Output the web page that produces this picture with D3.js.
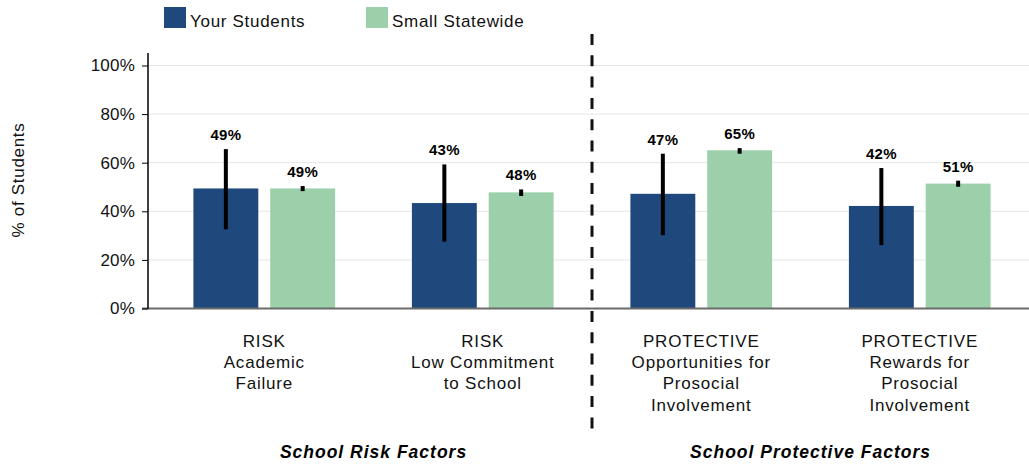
<!DOCTYPE html>
<html>
<head>
<meta charset="utf-8">
<script src="https://cdn.jsdelivr.net/npm/d3@7"></script>
<style>
  html, body { margin: 0; padding: 0; background: #fff; }
  svg { display: block; font-family: "Liberation Sans", Arial, sans-serif; }
</style>
</head>
<body>
<svg id="chart" width="1029" height="465"></svg>
<script>
// ---- Data ----
const categories = ["risk_academic", "risk_commitment", "prot_opportunities", "prot_rewards"];
const categoryLabels = [
  ["RISK", "Academic", "Failure"],
  ["RISK", "Low Commitment", "to School"],
  ["PROTECTIVE", "Opportunities for", "Prosocial", "Involvement"],
  ["PROTECTIVE", "Rewards for", "Prosocial", "Involvement"]
];
const seriesNames = ["Your Students", "Small Statewide"];
const yourStudents = [49.4, 43.4, 47.2, 42.2];
const smallStatewide = [49.4, 47.8, 65.1, 51.4];
const yourLow = [32.6, 27.5, 30.2, 26.1];
const yourHigh = [65.6, 59.3, 63.7, 57.8];
const stateLow = [48.3, 46.3, 63.7, 50.1];
const stateHigh = [50.4, 49.0, 66.0, 52.6];
const yTicks = [0, 20, 40, 60, 80, 100];
const groupTitles = ["School Risk Factors", "School Protective Factors"];
const colors = ["#1f487c", "#9bd0ab"];

// ---- Build rows ----
const rows = categories.map((c, i) => ({
  cat: c,
  vals: [
    { s: seriesNames[0], v: yourStudents[i], lo: yourLow[i], hi: yourHigh[i] },
    { s: seriesNames[1], v: smallStatewide[i], lo: stateLow[i], hi: stateHigh[i] }
  ]
}));

const svg = d3.select("#chart");
const W = 1029;
const axisX = 148;

const y = d3.scaleLinear().domain([0, 100]).range([308.5, 65.5]);
const x0 = d3.scaleBand().domain(categories).range([155, 1029]);
const x1 = d3.scaleBand().domain(seriesNames).range([0, x0.bandwidth()])
  .paddingInner(0.155).paddingOuter(0.5);
const color = d3.scaleOrdinal().domain(seriesNames).range(colors);

// gridlines
svg.append("g").selectAll("line")
  .data(yTicks.filter(t => t > 0))
  .join("line")
  .attr("x1", axisX).attr("x2", W)
  .attr("y1", d => y(d)).attr("y2", d => y(d))
  .attr("stroke", "#e6e6e6").attr("stroke-width", 1);

// bars
const groups = svg.append("g").selectAll("g")
  .data(rows).join("g")
  .attr("transform", d => `translate(${x0(d.cat)},0)`);

groups.selectAll("rect")
  .data(d => d.vals).join("rect")
  .attr("x", d => x1(d.s))
  .attr("y", d => y(d.v))
  .attr("width", x1.bandwidth())
  .attr("height", d => y(0) - y(d.v))
  .attr("fill", d => color(d.s));

// error bars
groups.selectAll("line.err")
  .data(d => d.vals).join("line")
  .attr("class", "err")
  .attr("x1", d => x1(d.s) + x1.bandwidth() / 2)
  .attr("x2", d => x1(d.s) + x1.bandwidth() / 2)
  .attr("y1", d => y(d.hi))
  .attr("y2", d => y(d.lo))
  .attr("stroke", "#000")
  .attr("stroke-width", 4);

// value labels
groups.selectAll("text.val")
  .data(d => d.vals).join("text")
  .attr("class", "val")
  .attr("x", d => x1(d.s) + x1.bandwidth() / 2)
  .attr("y", d => Math.min(y(d.v), y(d.hi)) - 9)
  .attr("text-anchor", "middle")
  .attr("font-size", 15)
  .attr("letter-spacing", 0.3)
  .attr("font-weight", "bold")
  .attr("fill", "#000")
  .text(d => Math.round(d.v) + "%");

// x axis line
svg.append("line")
  .attr("x1", axisX - 6).attr("x2", W)
  .attr("y1", y(0)).attr("y2", y(0))
  .attr("stroke", "#6b6b6b").attr("stroke-width", 2);

// y axis
const yAxis = d3.axisLeft(y).tickValues(yTicks).tickSize(6).tickPadding(7)
  .tickFormat(d => d + "%");
const yg = svg.append("g").attr("transform", `translate(${axisX},0)`).call(yAxis);
yg.select(".domain").remove();
yg.selectAll(".tick line").attr("stroke", "#000").attr("stroke-width", 1);
yg.selectAll(".tick text").attr("font-size", 17).attr("fill", "#111")
  .attr("letter-spacing", 0.2)
  .attr("font-family", "Liberation Sans, Arial, sans-serif");
svg.append("line")
  .attr("x1", axisX).attr("x2", axisX)
  .attr("y1", 53).attr("y2", y(0))
  .attr("stroke", "#000").attr("stroke-width", 1.5);

// y title
svg.append("text")
  .attr("transform", `translate(24,180) rotate(-90)`)
  .attr("text-anchor", "middle")
  .attr("font-size", 17)
  .attr("letter-spacing", 0.7)
  .attr("fill", "#111")
  .text("% of Students");

// category labels
const catLab = svg.append("g").selectAll("text")
  .data(categories).join("text")
  .attr("x", d => x0(d) + x0.bandwidth() / 2)
  .attr("y", 347)
  .attr("text-anchor", "middle")
  .attr("font-size", 17)
  .attr("letter-spacing", 0.8)
  .attr("fill", "#111");
catLab.each(function (d, i) {
  d3.select(this).selectAll("tspan")
    .data(categoryLabels[i]).join("tspan")
    .attr("x", x0(d) + x0.bandwidth() / 2)
    .attr("dy", (t, j) => j === 0 ? 0 : 21.2)
    .text(t => t);
});

// divider
const divX = x0(categories[2]);
svg.append("line")
  .attr("x1", divX).attr("x2", divX)
  .attr("y1", 34).attr("y2", 430)
  .attr("stroke", "#111").attr("stroke-width", 3)
  .attr("stroke-dasharray", "11,10.3");

// group titles
const groupCenters = [
  (x0(categories[0]) + x0(categories[1]) + x0.bandwidth()) / 2,
  (x0(categories[2]) + x0(categories[3]) + x0.bandwidth()) / 2
];
svg.append("g").selectAll("text")
  .data(groupTitles).join("text")
  .attr("x", (d, i) => groupCenters[i])
  .attr("y", 458)
  .attr("text-anchor", "middle")
  .attr("font-size", 17.5)
  .attr("letter-spacing", 1)
  .attr("font-weight", "bold")
  .attr("font-style", "italic")
  .attr("fill", "#000")
  .text(d => d);

// legend
const legendX = [164, 366];
const leg = svg.append("g").selectAll("g")
  .data(seriesNames).join("g")
  .attr("transform", (d, i) => `translate(${legendX[i]},7)`);
leg.append("rect").attr("width", 22).attr("height", 21).attr("fill", d => color(d));
leg.append("text").attr("x", 26).attr("y", 20).attr("font-size", 17)
  .attr("letter-spacing", 0.7).attr("fill", "#111").text(d => d);
</script>
</body>
</html>
